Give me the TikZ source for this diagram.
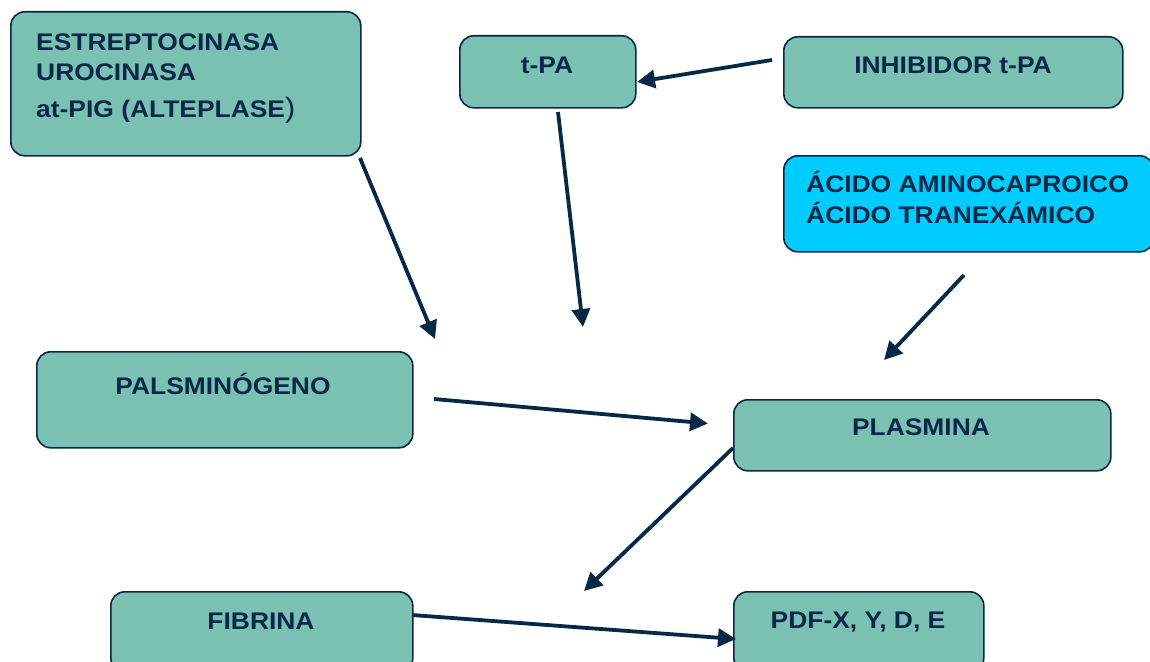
\documentclass[tikz,border=0pt]{standalone}
\usepackage{fontspec}
\setmainfont{Liberation Sans}[FakeStretch=1.1]
\usetikzlibrary{arrows.meta}
\definecolor{boxteal}{RGB}{122,193,179}
\definecolor{boxcyan}{RGB}{0,204,255}
\definecolor{navy}{RGB}{8,40,72}
\tikzset{
  box/.style={draw=navy, line width=1.6pt, rounded corners=14pt, fill=boxteal, anchor=north west, inner sep=0pt},
  lbl/.style={text=navy, font=\fontsize{24}{29}\selectfont\bfseries, inner sep=0pt},
  link/.style={draw=navy, line width=3.8pt, -{Triangle[length=18pt,width=18pt]}},
}
\begin{document}
\begin{tikzpicture}[x=1pt,y=-1pt]
      \useasboundingbox (0,0) rectangle (1150,661);
      % boxes
      \node[box, minimum width=350pt, minimum height=144pt] (strep) at (10,11) {};
      \node[box, minimum width=176pt, minimum height=72pt] (tpa) at (459,35) {};
      \node[box, minimum width=339pt, minimum height=71pt] (inhib) at (783,36) {};
      \node[box, fill=boxcyan, minimum width=370pt, minimum height=96pt] (acido) at (783,155) {};
      \node[box, minimum width=376pt, minimum height=96pt] (plasminog) at (36,351) {};
      \node[box, minimum width=377pt, minimum height=71pt] (plasmina) at (733,399) {};
      \node[box, minimum width=302pt, minimum height=80pt] (fibrina) at (110,591) {};
      \node[box, minimum width=250pt, minimum height=80pt] (pdf) at (733,591) {};
      % texts
      \node[lbl, anchor=base west] (strepA) at (36,50.5) {ESTREPTOCINASA};
      \node[lbl, anchor=base west] (strepB) at (36,81) {UROCINASA};
      \node[lbl, anchor=base west] (strepC) at (36,117.5) {at-PIG (ALTEPLASE{\fontsize{28}{30}\selectfont\mdseries)}};
      \node[lbl, anchor=base] (tpaT) at (547,73.5) {t-PA};
      \node[lbl, anchor=base] (inhibT) at (953,73.5) {INHIBIDOR t-PA};
      \node[lbl, anchor=base west] (acidoA) at (806,192.5) {ÁCIDO AMINOCAPROICO};
      \node[lbl, anchor=base west] (acidoB) at (806,223) {ÁCIDO TRANEXÁMICO};
      \node[lbl, anchor=base] (plasminogT) at (223,394) {PALSMINÓGENO};
      \node[lbl, anchor=base] (plasminaT) at (921,435) {PLASMINA};
      \node[lbl, anchor=base] (fibrinaT) at (261,629) {FIBRINA};
      \node[lbl, anchor=base] (pdfT) at (858,628.5) {PDF-X, Y, D, E};
      % arrow ends
      \coordinate (s1) at (360,158);
      \coordinate (e1) at (435,339);
      \coordinate (s2) at (558,112);
      \coordinate (e2) at (583,327);
      \coordinate (s3) at (772,60);
      \coordinate (e3) at (637,82);
      \coordinate (s4) at (964,275);
      \coordinate (e4) at (884,360);
      \coordinate (s5) at (434,399);
      \coordinate (e5) at (708,423.5);
      \coordinate (s6) at (733,448);
      \coordinate (e6) at (584,591);
      \coordinate (s7) at (412,615);
      \coordinate (e7) at (736,639);
      \foreach \s/\e in {s1/e1,s2/e2,s3/e3,s4/e4,s5/e5,s6/e6,s7/e7}
          \draw[link] (\s) -- (\e);
    \end{tikzpicture}
\end{document}
